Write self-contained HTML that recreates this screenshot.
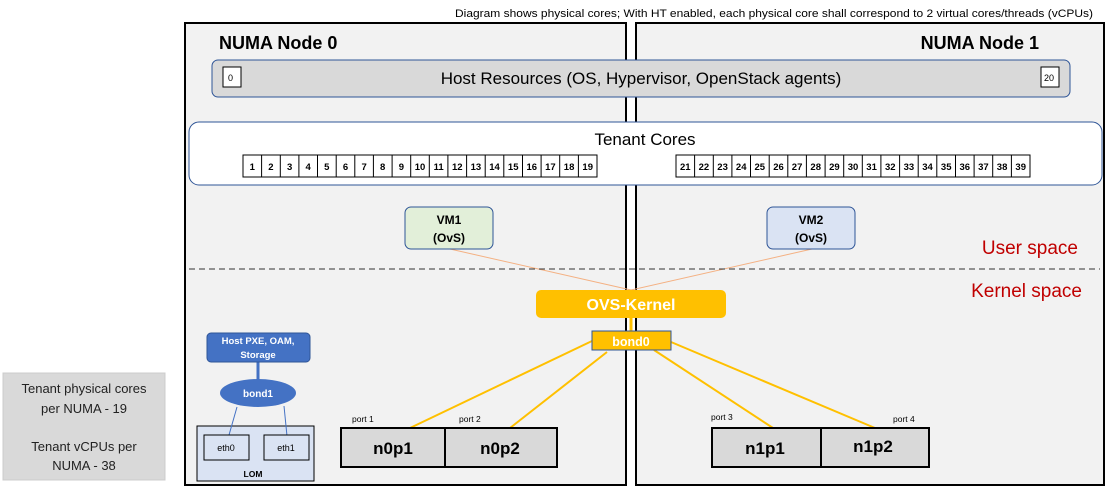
<!DOCTYPE html>
<html><head><meta charset="utf-8"><style>
body{margin:0;background:#fff;}
svg{display:block;font-family:"Liberation Sans",sans-serif;}
</style></head><body>
<svg width="1120" height="493" viewBox="0 0 1120 493" xmlns="http://www.w3.org/2000/svg">
<rect width="1120" height="493" fill="#fff"/>
<text x="455" y="17" font-size="11" textLength="638" lengthAdjust="spacingAndGlyphs" fill="#000">Diagram shows physical cores; With HT enabled, each physical core shall correspond to 2 virtual cores/threads (vCPUs)</text>
<rect x="185" y="23" width="441" height="462" fill="#f2f2f2" stroke="#000" stroke-width="2"/>
<rect x="636" y="23" width="468" height="462" fill="#f2f2f2" stroke="#000" stroke-width="2"/>
<text x="219" y="49" font-size="18" font-weight="bold">NUMA Node 0</text>
<text x="1039" y="49" font-size="18" font-weight="bold" text-anchor="end">NUMA Node 1</text>
<rect x="212" y="60" width="858" height="37" rx="6" fill="#d9d9d9" stroke="#2f5597" stroke-width="1"/>
<rect x="223" y="67" width="18" height="20" fill="#fff" stroke="#000"/>
<text x="228" y="81" font-size="9">0</text>
<rect x="1041" y="67" width="18" height="20" fill="#fff" stroke="#000"/>
<text x="1044" y="81" font-size="9">20</text>
<text x="641" y="84" font-size="17" text-anchor="middle">Host Resources (OS, Hypervisor, OpenStack agents)</text>
<rect x="189" y="122" width="913" height="63" rx="10" fill="#fff" stroke="#2f5597" stroke-width="1"/>
<text x="645" y="145" font-size="17" text-anchor="middle">Tenant Cores</text>
<line x1="450" y1="249" x2="631" y2="290" stroke="#f4b183" stroke-width="1"/>
<line x1="812" y1="249" x2="631" y2="290" stroke="#f4b183" stroke-width="1"/>
<rect x="405" y="207" width="88" height="42" rx="6" fill="#e2efd9" stroke="#2f5597"/>
<text x="449" y="224" font-size="12" font-weight="bold" text-anchor="middle">VM1</text>
<text x="449" y="242" font-size="12" font-weight="bold" text-anchor="middle">(OvS)</text>
<rect x="767" y="207" width="88" height="42" rx="6" fill="#dae3f3" stroke="#2f5597"/>
<text x="811" y="224" font-size="12" font-weight="bold" text-anchor="middle">VM2</text>
<text x="811" y="242" font-size="12" font-weight="bold" text-anchor="middle">(OvS)</text>
<line x1="189" y1="269" x2="1100" y2="269" stroke="#333" stroke-width="1" stroke-dasharray="6,4"/>
<text x="1078" y="254" font-size="19" fill="#c00000" text-anchor="end">User space</text>
<text x="1082" y="297" font-size="19" fill="#c00000" text-anchor="end">Kernel space</text>
<rect x="536" y="290" width="190" height="28" rx="5" fill="#ffc000"/>
<text x="631" y="310" font-size="16" font-weight="bold" fill="#fff" text-anchor="middle">OVS-Kernel</text>
<line x1="631" y1="318" x2="631" y2="331" stroke="#ffc000" stroke-width="3"/>
<g stroke="#ffc000" stroke-width="2">
<line x1="592" y1="341" x2="410" y2="428"/>
<line x1="607" y1="352" x2="510" y2="428"/>
<line x1="654" y1="350" x2="773" y2="428"/>
<line x1="671" y1="342" x2="875" y2="428"/>
</g>
<rect x="592" y="331" width="79" height="19" fill="#ffc000" stroke="#2f5597"/>
<text x="631" y="346" font-size="12.5" font-weight="bold" fill="#fff" text-anchor="middle">bond0</text>
<text x="352" y="422" font-size="8.5">port 1</text>
<text x="459" y="422" font-size="8.5">port 2</text>
<text x="711" y="420" font-size="8.5">port 3</text>
<text x="893" y="422" font-size="8.5">port 4</text>
<rect x="341" y="428" width="216" height="39" fill="#d9d9d9" stroke="#000" stroke-width="2"/>
<line x1="445" y1="428" x2="445" y2="466" stroke="#000" stroke-width="2"/>
<text x="393" y="454" font-size="17" font-weight="bold" text-anchor="middle">n0p1</text>
<text x="500" y="454" font-size="17" font-weight="bold" text-anchor="middle">n0p2</text>
<rect x="712" y="428" width="217" height="39" fill="#d9d9d9" stroke="#000" stroke-width="2"/>
<line x1="821" y1="428" x2="821" y2="467" stroke="#000" stroke-width="2"/>
<text x="765" y="454" font-size="17" font-weight="bold" text-anchor="middle">n1p1</text>
<text x="873" y="452" font-size="17" font-weight="bold" text-anchor="middle">n1p2</text>
<line x1="258" y1="362" x2="258" y2="381" stroke="#4472c4" stroke-width="3"/>
<rect x="207" y="333" width="103" height="29" rx="4" fill="#4472c4" stroke="#2f5597"/>
<text x="258" y="344" font-size="9.5" font-weight="bold" fill="#fff" text-anchor="middle">Host PXE, OAM,</text>
<text x="258" y="358" font-size="9.5" font-weight="bold" fill="#fff" text-anchor="middle">Storage</text>
<rect x="197" y="426" width="117" height="55" fill="#dae3f3" stroke="#000" stroke-width="1"/>
<line x1="237" y1="407" x2="229" y2="435" stroke="#4472c4"/>
<line x1="284" y1="406" x2="287" y2="436" stroke="#4472c4"/>
<ellipse cx="258" cy="393" rx="38" ry="14" fill="#4472c4"/>
<text x="258" y="397" font-size="10" font-weight="bold" fill="#fff" text-anchor="middle">bond1</text>
<rect x="204" y="435" width="45" height="25" fill="#dae3f3" stroke="#000"/>
<text x="226" y="451" font-size="9" text-anchor="middle">eth0</text>
<rect x="264" y="435" width="45" height="25" fill="#dae3f3" stroke="#000"/>
<text x="286" y="451" font-size="9" text-anchor="middle">eth1</text>
<text x="253" y="477" font-size="8.5" font-weight="bold" text-anchor="middle">LOM</text>
<rect x="3" y="373" width="162" height="107" fill="#d9d9d9" stroke="#ccc"/>
<g font-size="13" text-anchor="middle" fill="#222">
<text x="84" y="393">Tenant physical cores</text>
<text x="84" y="413">per NUMA  - 19</text>
<text x="84" y="451">Tenant vCPUs per</text>
<text x="84" y="470">NUMA - 38</text>
</g>
<rect x="243" y="155" width="354" height="22" fill="#fff" stroke="#000"/>
<rect x="676" y="155" width="354" height="22" fill="#fff" stroke="#000"/>
<g stroke="#000" stroke-width="1">
<line x1="261.6" y1="155" x2="261.6" y2="177"/><line x1="280.3" y1="155" x2="280.3" y2="177"/><line x1="298.9" y1="155" x2="298.9" y2="177"/><line x1="317.5" y1="155" x2="317.5" y2="177"/><line x1="336.2" y1="155" x2="336.2" y2="177"/><line x1="354.8" y1="155" x2="354.8" y2="177"/><line x1="373.4" y1="155" x2="373.4" y2="177"/><line x1="392.1" y1="155" x2="392.1" y2="177"/><line x1="410.7" y1="155" x2="410.7" y2="177"/><line x1="429.3" y1="155" x2="429.3" y2="177"/><line x1="447.9" y1="155" x2="447.9" y2="177"/><line x1="466.6" y1="155" x2="466.6" y2="177"/><line x1="485.2" y1="155" x2="485.2" y2="177"/><line x1="503.8" y1="155" x2="503.8" y2="177"/><line x1="522.5" y1="155" x2="522.5" y2="177"/><line x1="541.1" y1="155" x2="541.1" y2="177"/><line x1="559.7" y1="155" x2="559.7" y2="177"/><line x1="578.4" y1="155" x2="578.4" y2="177"/>
<line x1="694.6" y1="155" x2="694.6" y2="177"/><line x1="713.3" y1="155" x2="713.3" y2="177"/><line x1="731.9" y1="155" x2="731.9" y2="177"/><line x1="750.5" y1="155" x2="750.5" y2="177"/><line x1="769.2" y1="155" x2="769.2" y2="177"/><line x1="787.8" y1="155" x2="787.8" y2="177"/><line x1="806.4" y1="155" x2="806.4" y2="177"/><line x1="825.1" y1="155" x2="825.1" y2="177"/><line x1="843.7" y1="155" x2="843.7" y2="177"/><line x1="862.3" y1="155" x2="862.3" y2="177"/><line x1="880.9" y1="155" x2="880.9" y2="177"/><line x1="899.6" y1="155" x2="899.6" y2="177"/><line x1="918.2" y1="155" x2="918.2" y2="177"/><line x1="936.8" y1="155" x2="936.8" y2="177"/><line x1="955.5" y1="155" x2="955.5" y2="177"/><line x1="974.1" y1="155" x2="974.1" y2="177"/><line x1="992.7" y1="155" x2="992.7" y2="177"/><line x1="1011.4" y1="155" x2="1011.4" y2="177"/>
</g>
<g font-size="9.5" font-weight="bold" text-anchor="middle">
<text x="252.3" y="170">1</text><text x="270.9" y="170">2</text><text x="289.6" y="170">3</text><text x="308.2" y="170">4</text><text x="326.8" y="170">5</text><text x="345.5" y="170">6</text><text x="364.1" y="170">7</text><text x="382.7" y="170">8</text><text x="401.4" y="170">9</text><text x="420" y="170">10</text><text x="438.6" y="170">11</text><text x="457.3" y="170">12</text><text x="475.9" y="170">13</text><text x="494.5" y="170">14</text><text x="513.2" y="170">15</text><text x="531.8" y="170">16</text><text x="550.4" y="170">17</text><text x="569.1" y="170">18</text><text x="587.7" y="170">19</text>
<text x="685.3" y="170">21</text><text x="703.9" y="170">22</text><text x="722.6" y="170">23</text><text x="741.2" y="170">24</text><text x="759.8" y="170">25</text><text x="778.5" y="170">26</text><text x="797.1" y="170">27</text><text x="815.7" y="170">28</text><text x="834.4" y="170">29</text><text x="853" y="170">30</text><text x="871.6" y="170">31</text><text x="890.3" y="170">32</text><text x="908.9" y="170">33</text><text x="927.5" y="170">34</text><text x="946.2" y="170">35</text><text x="964.8" y="170">36</text><text x="983.4" y="170">37</text><text x="1002.1" y="170">38</text><text x="1020.7" y="170">39</text>
</g>
</svg>
</body></html>
